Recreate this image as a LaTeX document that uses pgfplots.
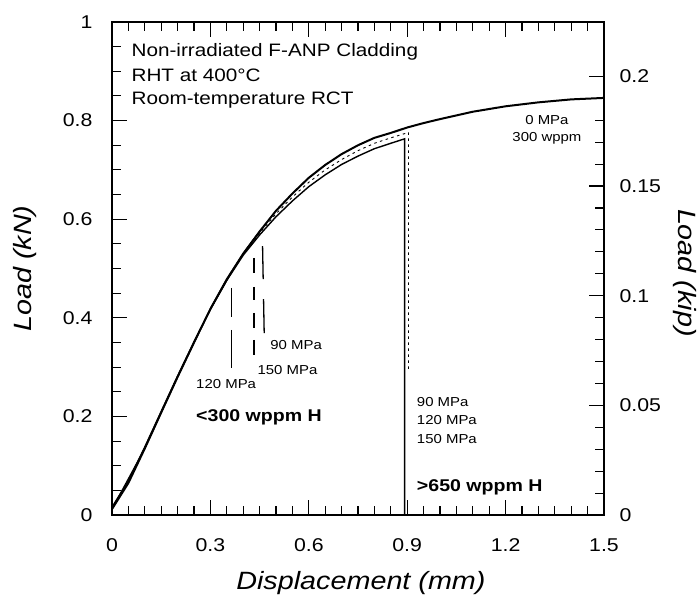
\documentclass[border=0pt]{standalone}
\usepackage{fontspec}
\setmainfont[FakeStretch=1.15]{Liberation Sans}
\usepackage{pgfplots}
\pgfplotsset{compat=1.18}
\begin{document}
\begin{tikzpicture}
\path[use as bounding box] (-112pt,-89pt) rectangle (588pt,515pt);
\begin{axis}[
  at={(0,0)}, anchor=south west, scale only axis,
  width=492pt, height=493pt,
  xmin=0, xmax=1.5, ymin=0, ymax=1,
  clip=false,
  xtick={0,0.3,0.6,0.9,1.2,1.5}, minor x tick num=5,
  ytick={0,0.2,0.4,0.6,0.8,1}, minor y tick num=3,
  ytick pos=left,
  tick align=inside,
  major tick length=15pt, minor tick length=9pt,
  every tick/.style={black, line width=1.1pt},
  axis line style={line width=1.3pt},
  /pgf/number format/assume math mode=true,
  tick label style={font=\fontsize{18.5}{20}\selectfont},
  xticklabel style={/pgf/number format/fixed,/pgf/number format/precision=1},
  yticklabel style={/pgf/number format/fixed,/pgf/number format/precision=2},
  scaled ticks=false,
  xticklabel shift=20pt, yticklabel shift=16pt,
  xlabel={Displacement (mm)}, ylabel={Load (kN)},
  label style={font=\fontsize{25}{28}\selectfont\itshape},
  xlabel style={at={(axis description cs:0.506,-0.138)}, anchor=center},
  ylabel style={at={(axis description cs:-0.177,0.5)}, anchor=center},
]
% 0 MPa, 300 wppm (upper envelope)
\addplot[black, line width=2pt] coordinates {
(0,0.012)(0.05,0.065)(0.1,0.135)(0.15,0.208)(0.2,0.28)(0.25,0.35)(0.3,0.418)(0.35,0.478)(0.4,0.53)(0.45,0.575)(0.5,0.617)(0.55,0.652)(0.6,0.684)(0.65,0.71)(0.7,0.732)(0.75,0.75)(0.8,0.765)(0.85,0.775)(0.9,0.786)(0.95,0.795)(1.0,0.803)(1.1,0.818)(1.2,0.829)(1.3,0.837)(1.4,0.843)(1.5,0.846)};
% >650 wppm, solid, drops to zero
\addplot[black, line width=1.4pt] coordinates {
(0,0.016)(0.05,0.069)(0.1,0.138)(0.15,0.21)(0.2,0.282)(0.25,0.351)(0.3,0.417)(0.35,0.476)(0.4,0.527)(0.45,0.568)(0.5,0.605)(0.55,0.637)(0.6,0.666)(0.65,0.69)(0.7,0.711)(0.75,0.728)(0.8,0.743)(0.85,0.754)(0.892,0.763)(0.892,0.0)};
% >650 wppm, fine dashes, drops to 0.29
\addplot[black, line width=0.9pt, dash pattern=on 2.5pt off 3.5pt] coordinates {
(0.4,0.529)(0.45,0.572)(0.5,0.611)(0.55,0.645)(0.6,0.675)(0.65,0.7)(0.7,0.721)(0.75,0.739)(0.8,0.754)(0.85,0.765)(0.904,0.776)(0.904,0.294)};
% <300 wppm, 120 MPa
\addplot[black, line width=1.3pt] coordinates {(0,0.012)(0.1,0.135)(0.2,0.28)(0.3,0.418)(0.365,0.494)};
\addplot[black, line width=1.3pt, dash pattern=on 0pt off 16.5pt on 29pt off 13pt on 37pt] coordinates {(0.365,0.494)(0.365,0.300)};
% <300 wppm, 150 MPa
\addplot[black, line width=1.3pt] coordinates {(0.3,0.418)(0.35,0.478)(0.4,0.53)(0.433,0.56)};
\addplot[black, line width=1.3pt, dash pattern=on 0pt off 19pt on 15pt off 14pt on 13pt off 13pt on 15pt off 12pt on 15pt] coordinates {(0.433,0.56)(0.433,0.325)};
% <300 wppm, 90 MPa
\addplot[black, line width=1.3pt] coordinates {(0.4,0.53)(0.45,0.575)(0.458,0.582)};
\addplot[black, line width=1.3pt, dash pattern=on 0pt off 18pt on 33pt off 20pt on 35pt] coordinates {(0.458,0.582)(0.464,0.369)};
% annotations
\node[anchor=base west, font=\fontsize{18}{20}\selectfont] at (axis cs:0.049,0.929) {Non-irradiated F-ANP Cladding};
\node[anchor=base west, font=\fontsize{18}{20}\selectfont] at (axis cs:0.049,0.880) {RHT at 400°C};
\node[anchor=base west, font=\fontsize{18}{20}\selectfont] at (axis cs:0.049,0.833) {Room-temperature RCT};
\node[anchor=base, font=\fontsize{13}{15}\selectfont] at (axis cs:1.326,0.793) {0 MPa};
\node[anchor=base, font=\fontsize{13}{15}\selectfont] at (axis cs:1.326,0.757) {300 wppm};
\node[anchor=base west, font=\fontsize{13}{15}\selectfont] at (axis cs:0.472,0.335) {90 MPa};
\node[anchor=base west, font=\fontsize{13}{15}\selectfont] at (axis cs:0.433,0.284) {150 MPa};
\node[anchor=base west, font=\fontsize{13}{15}\selectfont] at (axis cs:0.246,0.257) {120 MPa};
\node[anchor=base west, font=\fontsize{17}{19}\selectfont\bfseries] at (axis cs:0.246,0.189) {<300 wppm H};
\node[anchor=base west, font=\fontsize{13}{15}\selectfont] at (axis cs:0.919,0.221) {90 MPa};
\node[anchor=base west, font=\fontsize{13}{15}\selectfont] at (axis cs:0.919,0.183) {120 MPa};
\node[anchor=base west, font=\fontsize{13}{15}\selectfont] at (axis cs:0.919,0.145) {150 MPa};
\node[anchor=base west, font=\fontsize{17}{19}\selectfont\bfseries] at (axis cs:0.919,0.047) {>650 wppm H};
\end{axis}
\begin{axis}[
  at={(0,0)}, anchor=south west, scale only axis,
  width=492pt, height=493pt,
  xmin=0, xmax=1.5, ymin=0, ymax=0.224809,
  hide x axis, axis y line*=right,
  ytick={0,0.05,0.1,0.15,0.2}, minor y tick num=4,
  ytick align=inside,
  major tick length=15pt, minor tick length=9pt,
  every tick/.style={black, line width=1.1pt},
  axis line style={line width=1.3pt},
  /pgf/number format/assume math mode=true,
  tick label style={font=\fontsize{18.5}{20}\selectfont},
  yticklabel style={/pgf/number format/fixed,/pgf/number format/precision=2},
  scaled ticks=false,
  yticklabel shift=12pt,
  ylabel={Load (kip)},
  label style={font=\fontsize{25}{28}\selectfont\itshape},
  ylabel style={at={(axis description cs:1.165,0.491)}, anchor=center, rotate=180},
]
\end{axis}
\end{tikzpicture}
\end{document}
